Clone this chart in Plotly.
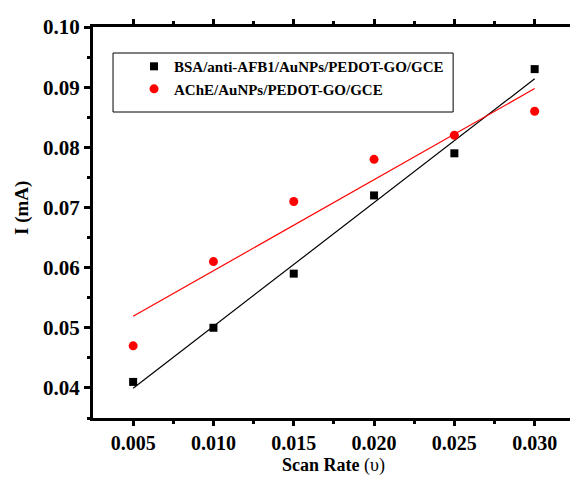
import numpy as np
import plotly.graph_objects as go

scan_rate = [0.005, 0.010, 0.015, 0.020, 0.025, 0.030]
bsa_current = [0.041, 0.050, 0.059, 0.072, 0.079, 0.093]
ache_current = [0.047, 0.061, 0.071, 0.078, 0.082, 0.086]
bsa_name = "BSA/anti-AFB1/AuNPs/PEDOT-GO/GCE"
ache_name = "AChE/AuNPs/PEDOT-GO/GCE"
x_ticks = [0.005, 0.010, 0.015, 0.020, 0.025, 0.030]
y_ticks = [0.04, 0.05, 0.06, 0.07, 0.08, 0.09, 0.10]

series = [
    (bsa_current, "black", "square", 8, bsa_name),
    (ache_current, "red", "circle", 9, ache_name),
]

xs = np.array(scan_rate)
fig = go.Figure()
for vals, color, sym, sz, name in series:
    k, b = np.polyfit(xs, np.array(vals), 1)
    fig.add_trace(go.Scatter(x=[xs[0], xs[-1]], y=[k * xs[0] + b, k * xs[-1] + b],
                             mode="lines", line=dict(color=color, width=1.2),
                             showlegend=False, hoverinfo="skip"))
for vals, color, sym, sz, name in series:
    fig.add_trace(go.Scatter(x=scan_rate, y=vals, mode="markers", name=name,
                             marker=dict(color=color, symbol=sym, size=sz)))

font = "Liberation Serif"
fig.update_layout(
    width=570, height=477,
    margin=dict(l=93, r=0, t=27, b=59),
    paper_bgcolor="white", plot_bgcolor="white",
    font=dict(family=font, color="black"),
    legend=dict(x=0.086, y=0.941, xanchor="left", yanchor="top",
                borderwidth=0, bgcolor="rgba(0,0,0,0)",
                font=dict(family=font, size=15, color="black", weight="bold"),
                itemwidth=30, tracegroupgap=0),
    showlegend=True,
    shapes=[dict(type="rect", xref="paper", yref="paper",
                 x0=0.042, x1=0.755, y0=0.7826, y1=0.9335,
                 line=dict(color="black", width=1), fillcolor="rgba(0,0,0,0)")],
    annotations=[
        dict(text="<b>Scan Rate</b> (υ)", xref="paper", yref="paper", x=0.504, y=-0.121,
             xanchor="center", yanchor="middle", showarrow=False,
             font=dict(family=font, size=18, color="black")),
        dict(text="<b>I (mA)</b>", xref="paper", yref="paper", x=-0.149, y=0.537,
             xanchor="center", yanchor="middle", showarrow=False, textangle=-90,
             font=dict(family=font, size=19, color="black")),
    ],
)
fig.update_xaxes(
    range=[0.0025, 0.0322], tickvals=x_ticks, ticktext=[f"{v:.3f}" for v in x_ticks],
    showline=True, linecolor="black", linewidth=3, mirror="ticks",
    ticks="outside", ticklen=5, tickwidth=3, tickcolor="black",
    minor=dict(tickvals=[0.0075, 0.0125, 0.0175, 0.0225, 0.0275], ticks="outside",
               ticklen=3, tickwidth=3, tickcolor="black"),
    showgrid=False, zeroline=False,
    tickfont=dict(family=font, size=20, color="black", weight="bold"),
)
fig.update_yaxes(
    range=[0.035, 0.10], tickvals=y_ticks, ticktext=[f"{v:.2f}" for v in y_ticks],
    showline=True, linecolor="black", linewidth=3,
    ticks="outside", ticklen=6, tickwidth=3, tickcolor="black",
    minor=dict(tickvals=[0.035, 0.045, 0.055, 0.065, 0.075, 0.085, 0.095], ticks="outside",
               ticklen=3, tickwidth=3, tickcolor="black"),
    showgrid=False, zeroline=False,
    tickfont=dict(family=font, size=21, color="black", weight="bold"),
)
fig.write_html("out.html")
